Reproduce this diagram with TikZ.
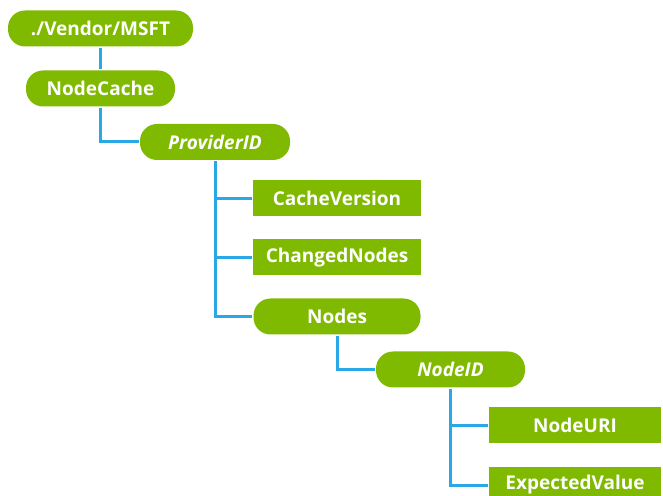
\documentclass[tikz,border=0pt]{standalone}
\usepackage{fontspec}
\setmainfont{Open Sans}
\usetikzlibrary{positioning}
\definecolor{cgreen}{HTML}{7FBA00}
\definecolor{cblue}{HTML}{2AA8E6}
\tikzset{
  every picture/.style={line width=3pt},
  label font/.style={font=\fontsize{19}{22}\selectfont\bfseries},
  pill/.style={fill=cgreen, text=white, rounded corners=17pt, minimum height=36pt, inner sep=0pt, label font},
  leaf/.style={fill=cgreen, text=white, minimum height=36pt, inner sep=0pt, label font},
  slanted/.style={font=\fontsize{19}{22}\selectfont\bfseries\itshape},
  link/.style={draw=cblue, line width=3pt},
}

\begin{document}
\begin{tikzpicture}[x=1pt, y=1pt, node distance=21pt]
  \useasboundingbox (0,0) rectangle (663,495);
  \node[pill, minimum width=185pt] (vendor) at (100.5,466.5) {./Vendor/MSFT};
  \node[pill, minimum width=149pt, below=of vendor] (cache) {NodeCache};
  \node[pill, minimum width=150pt, slanted] (provider) at (215,353) {ProviderID};
  \node[leaf, minimum width=168pt] (cachever) at (337,296.5) {CacheVersion};
  \node[leaf, minimum width=168pt, below=20pt of cachever] (changed) {ChangedNodes};
  \node[pill, minimum width=167pt, below=20pt of changed] (nodes) {Nodes};
  \node[pill, minimum width=149pt, slanted] (nodeid) at (450.5,125.5) {NodeID};
  \node[leaf, minimum width=172pt] (nodeuri) at (575,70) {NodeURI};
  \node[leaf, minimum width=172pt, below=of nodeuri] (expected) {ExpectedValue};
  \draw[link] (vendor) -- (cache);
  \draw[link] (cache.south) |- (provider.west);
  \draw[link] (provider.south) |- (cachever.west);
  \draw[link] (provider.south) |- (changed.west);
  \draw[link] (provider.south) |- (nodes.west);
  \draw[link] (nodes.south) |- (nodeid.west);
  \draw[link] (nodeid.south) |- (nodeuri.west);
  \draw[link] (nodeid.south) |- (expected.west);
\end{tikzpicture}
\end{document}
